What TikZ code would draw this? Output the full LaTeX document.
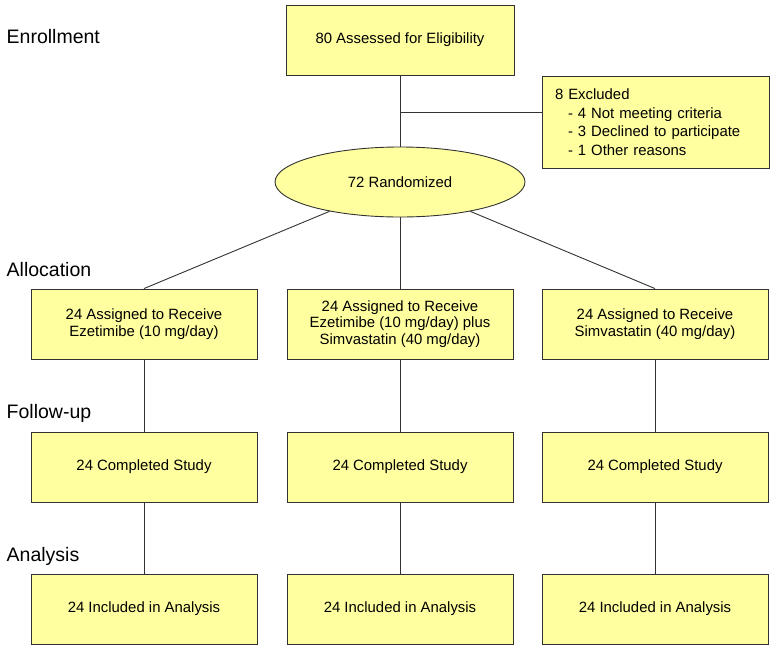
\documentclass[tikz,border=0pt]{standalone}
\usepackage{fontspec}
\setmainfont{Liberation Sans}
\usetikzlibrary{shapes.geometric}
\definecolor{boxfill}{RGB}{255,255,160}
\definecolor{edge}{RGB}{50,50,50}
\begin{document}
\begin{tikzpicture}[x=1pt,y=-1pt,
  stagebox/.style={draw=edge, line width=0.9pt, fill=boxfill, minimum width=226pt, minimum height=70pt,
     align=center, inner sep=2pt, font=\fontsize{14.9}{16.8}\selectfont},
  phase/.style={anchor=base west, inner sep=0pt, font=\fontsize{19.5}{22}\selectfont},
  conn/.style={draw=edge, line width=0.9pt}]
\useasboundingbox (0,0) rectangle (775,651);
% phase labels
\node[phase] (lenr) at (6.5,43) {Enrollment};
\node[phase] (lall) at (6.5,276) {Allocation};
\node[phase] (lfol) at (6.5,418) {Follow-up};
\node[phase] (lana) at (6.5,561) {Analysis};
% enrollment
\node[stagebox, minimum width=228pt] (assess) at (400,40) {80 Assessed for Eligibility};
\node[stagebox, minimum width=227pt, minimum height=92pt, align=left, text width=201pt, inner xsep=13pt,
      font=\fontsize{14.9}{18.5}\selectfont] (excl) at (655.5,122)
  {8 Excluded\\
   \hspace*{13pt}- 4 Not meeting criteria\\
   \hspace*{13pt}- 3 Declined to participate\\
   \hspace*{13pt}- 1 Other reasons};
\node[stagebox, ellipse, minimum width=250pt, minimum height=70pt] (rand) at (400,182) {72 Randomized};
% allocation
\node[stagebox] (a1) at (144,324) {24 Assigned to Receive\\Ezetimibe (10 mg/day)};
\node[stagebox] (a2) at (400,324) {24 Assigned to Receive\\Ezetimibe (10 mg/day) plus\\Simvastatin (40 mg/day)};
\node[stagebox] (a3) at (655,324) {24 Assigned to Receive\\Simvastatin (40 mg/day)};
% follow-up
\node[stagebox] (f1) at (144,467) {24 Completed Study};
\node[stagebox] (f2) at (400,467) {24 Completed Study};
\node[stagebox] (f3) at (655,467) {24 Completed Study};
% analysis
\node[stagebox] (n1) at (144,609) {24 Included in Analysis};
\node[stagebox] (n2) at (400,609) {24 Included in Analysis};
\node[stagebox] (n3) at (655,609) {24 Included in Analysis};
% connectors
\coordinate (junc) at (400,112);
\draw[conn] (assess.south) -- (rand.north);
\draw[conn] (junc) -- (excl.west |- junc);
\draw[conn] (rand) -- (a1.north);
\draw[conn] (rand.south) -- (a2.north);
\draw[conn] (rand) -- (a3.north);
\draw[conn] (a1) -- (f1);
\draw[conn] (a2) -- (f2);
\draw[conn] (a3) -- (f3);
\draw[conn] (f1) -- (n1);
\draw[conn] (f2) -- (n2);
\draw[conn] (f3) -- (n3);
\end{tikzpicture}
\end{document}
